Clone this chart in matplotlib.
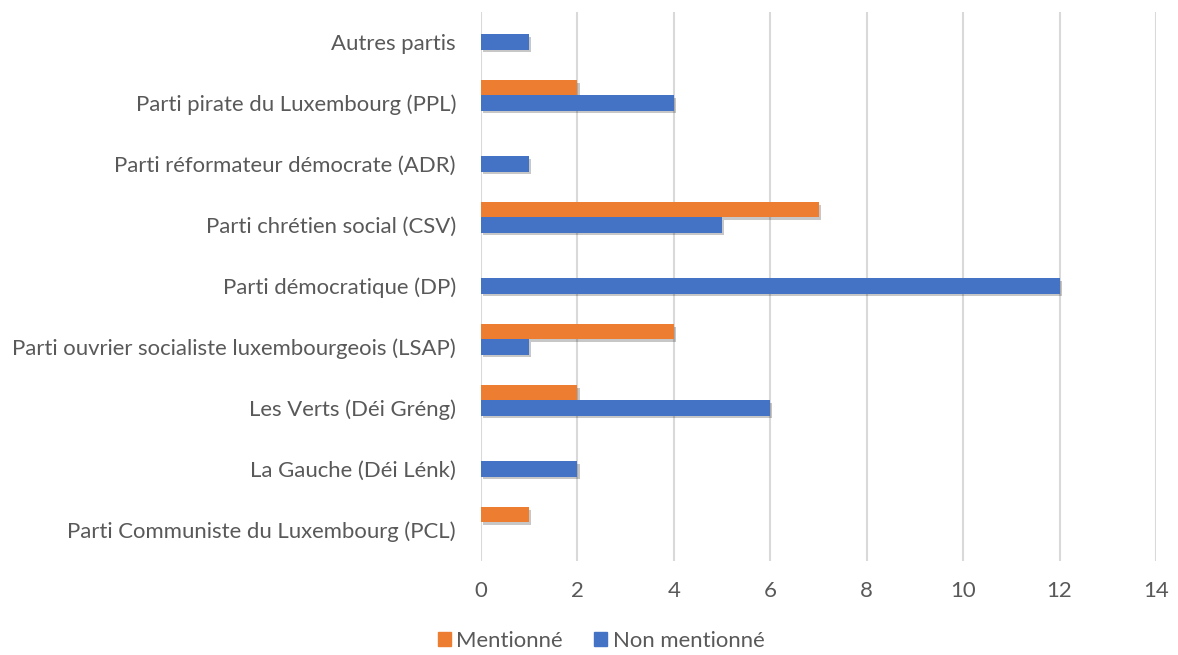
import matplotlib
matplotlib.use("Agg")
import matplotlib.pyplot as plt
import matplotlib.patheffects as pe
from matplotlib.patches import Patch
import numpy as np

categories = [
    "Parti Communiste du Luxembourg (PCL)",
    "La Gauche (Déi Lénk)",
    "Les Verts (Déi Gréng)",
    "Parti ouvrier socialiste luxembourgeois (LSAP)",
    "Parti démocratique (DP)",
    "Parti chrétien social (CSV)",
    "Parti réformateur démocrate (ADR)",
    "Parti pirate du Luxembourg (PPL)",
    "Autres partis",
]
mentionne = [1, 0, 2, 4, 0, 7, 0, 2, 0]
non_mentionne = [0, 2, 6, 1, 12, 5, 1, 4, 1]
xticks = [0, 2, 4, 6, 8, 10, 12, 14]

orange = "#ED7D31"
blue = "#4472C4"
txt = "#595959"
plt.rcParams["font.family"] = ["Lato", "DejaVu Sans"]
fs = 15.9

fig = plt.figure(figsize=(11.78, 6.55), dpi=100)
ax = fig.add_axes([481/1178, 1-560.5/655, (1156-481)/1178, (560.5-11.5)/655])

y = np.arange(len(categories))
bh = 0.246
shadow = [pe.SimplePatchShadow(offset=(1.5, -2), alpha=0.22, shadow_rgbFace="black"), pe.Normal()]
b1 = ax.barh(y + bh, mentionne, height=bh, color=orange, zorder=3)
b2 = ax.barh(y, non_mentionne, height=bh, color=blue, zorder=3)
for b in list(b1) + list(b2):
    if b.get_width() > 0:
        b.set_path_effects(shadow)

ax.set_xlim(0, 14)
ax.set_ylim(-0.5, len(categories) - 0.5)
ax.set_xticks(xticks)
ax.set_yticks(y)
ax.set_yticklabels(categories)
ax.tick_params(axis="both", length=0, colors=txt, labelsize=fs)
ax.tick_params(axis="y", pad=18)
ax.tick_params(axis="x", pad=15)
ax.grid(axis="x", color="#D9D9D9", linewidth=1.5, zorder=0)
for s in ax.spines.values():
    s.set_visible(False)

handles = [Patch(color=orange), Patch(color=blue)]
fig.legend(handles=handles, labels=["Mentionné", "Non mentionné"], loc="center",
           bbox_to_anchor=(601/1178, 1-641/655), ncol=2, frameon=False,
           fontsize=fs, labelcolor=txt, handlelength=0.6, handleheight=0.6,
           handletextpad=0.25, columnspacing=1.4)

fig.savefig("out.png", dpi=100)
